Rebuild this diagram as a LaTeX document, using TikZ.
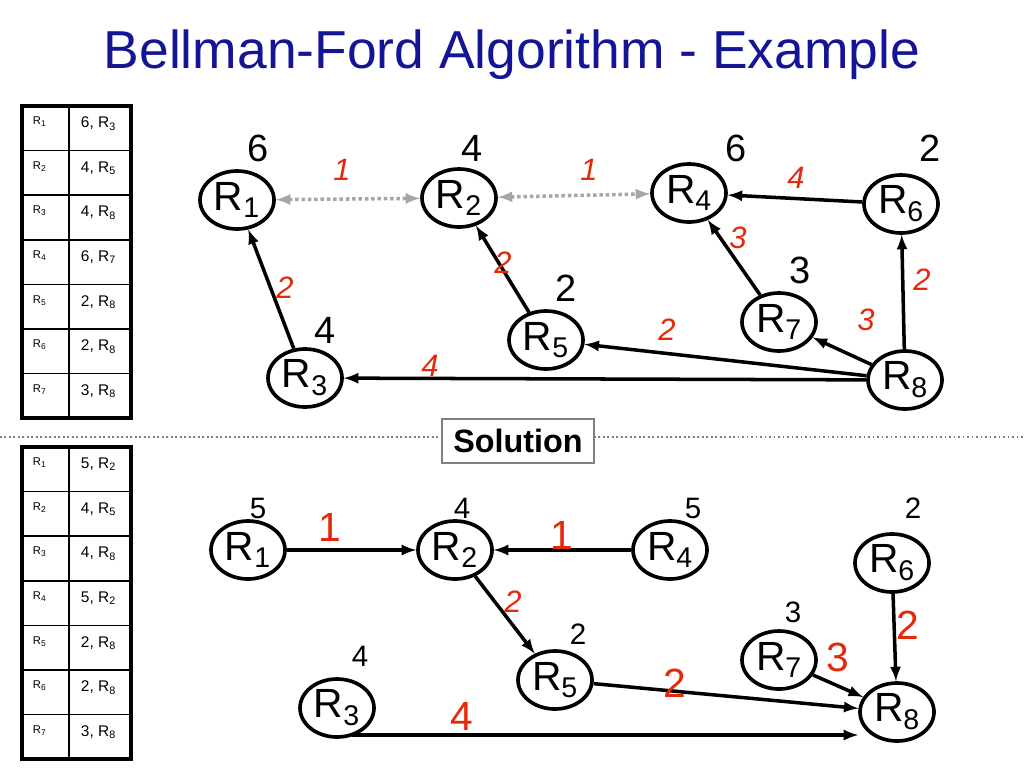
\documentclass[tikz,border=0pt]{standalone}
\usepackage{fontspec}
\setmainfont{Liberation Sans}
\usetikzlibrary{shapes.geometric}
\definecolor{titleblue}{RGB}{20,20,150}
\definecolor{wred}{RGB}{230,40,10}
\begin{document}
\begin{tikzpicture}[x=0.25mm,y=-0.25mm,>=latex]
\tikzset{router/.style={draw,line width=2.6pt,ellipse,inner sep=0pt,minimum width=18.5mm,minimum height=14.5mm,font=\fontsize{29}{31}\selectfont},
dist/.style={font=\fontsize{27}{29}\selectfont},
sdist/.style={font=\fontsize{21}{23}\selectfont},
wt/.style={text=wred,font=\itshape\fontsize{22}{24}\selectfont},
bigwt/.style={text=wred,font=\fontsize{29}{31}\selectfont},
link/.style={->,line width=2.5pt},
peer/.style={<->,gray!70,line width=2.5pt,dotted}}
\useasboundingbox (0,0) rectangle (1024,768);
\node[text=titleblue,font=\fontsize{38}{42}\selectfont] (title) at (512,55) {Bellman-Ford Algorithm - Example};
% tables
\foreach \yo in {106,447}{
  \draw[line width=3pt] (22,\yo) rectangle (131,\yo+312);
  \draw[line width=1.2pt] (69,\yo) -- (69,\yo+312);
  \foreach \i in {1,...,6} \draw[line width=1.2pt] (22,\yo+\i*44.6) -- (131,\yo+\i*44.6);
  \foreach \i in {1,...,7}
    \node[font=\fontsize{8}{9}\selectfont,anchor=north west] at (28,\yo+\i*44.6-44.6+6) {R\textsubscript{\i}};
}
\foreach \i/\e in {1/{6, R\textsubscript{3}},2/{4, R\textsubscript{5}},3/{4, R\textsubscript{8}},4/{6, R\textsubscript{7}},5/{2, R\textsubscript{8}},6/{2, R\textsubscript{8}},7/{3, R\textsubscript{8}}}
  \node[font=\fontsize{11}{12}\selectfont,anchor=north west] at (76,106+\i*44.6-44.6+6) {\e};
\foreach \i/\e in {1/{5, R\textsubscript{2}},2/{4, R\textsubscript{5}},3/{4, R\textsubscript{8}},4/{5, R\textsubscript{2}},5/{2, R\textsubscript{8}},6/{2, R\textsubscript{8}},7/{3, R\textsubscript{8}}}
  \node[font=\fontsize{11}{12}\selectfont,anchor=north west] at (76,447+\i*44.6-44.6+6) {\e};
\draw[gray,dotted,line width=1.2pt] (0,437) -- (1024,437);
\node[draw,gray,line width=1.2pt,fill=white,text=black,font=\bfseries\fontsize{23}{25}\selectfont,minimum width=38mm,minimum height=11mm] (sol) at (518,441) {Solution};
% top graph
\node[router] (a1) at (237,200) {R\textsubscript{1}};
\node[router] (a2) at (459,198) {R\textsubscript{2}};
\node[router] (a4) at (689,193) {R\textsubscript{4}};
\node[router] (a6) at (901,204) {R\textsubscript{6}};
\node[router] (a7) at (779,322) {R\textsubscript{7}};
\node[router] (a5) at (546,340) {R\textsubscript{5}};
\node[router] (a3) at (305,378) {R\textsubscript{3}};
\node[router] (a8) at (905,380) {R\textsubscript{8}};
\node[dist] at (258,148) {6};
\node[dist] at (472,148) {4};
\node[dist] at (736,148) {6};
\node[dist] at (930,148) {2};
\node[dist] at (800,270) {3};
\node[dist] at (566,288) {2};
\node[dist] at (325,330) {4};
\draw[peer] (a1) -- (a2);
\draw[peer] (a2) -- (a4);
\draw[link] (a3) -- (a1);
\draw[link] (a5) -- (a2);
\draw[link] (a7) -- (a4);
\draw[link] (a6) -- (a4);
\draw[link] (a8) -- (a6);
\draw[link] (a8) -- (a7);
\draw[link] (a8) -- (a5);
\draw[link] (a8) -- (a3);
\node[wt] at (342,170) {1};
\node[wt] at (589,170) {1};
\node[wt] at (796,178) {4};
\node[wt] at (738,238) {3};
\node[wt] at (503,263) {2};
\node[wt] at (285,288) {2};
\node[wt] at (922,280) {2};
\node[wt] at (866,320) {3};
\node[wt] at (667,330) {2};
\node[wt] at (430,366) {4};
% bottom graph
\node[router] (b1) at (248,550) {R\textsubscript{1}};
\node[router] (b2) at (455,550) {R\textsubscript{2}};
\node[router] (b4) at (670,550) {R\textsubscript{4}};
\node[router] (b6) at (892,563) {R\textsubscript{6}};
\node[router] (b7) at (779,660) {R\textsubscript{7}};
\node[router] (b5) at (555,680) {R\textsubscript{5}};
\node[router] (b3) at (337,708) {R\textsubscript{3}};
\node[router] (b8) at (897,712) {R\textsubscript{8}};
\node[sdist] at (258,508) {5};
\node[sdist] at (462,508) {4};
\node[sdist] at (693,508) {5};
\node[sdist] at (913,508) {2};
\node[sdist] at (793,612) {3};
\node[sdist] at (578,634) {2};
\node[sdist] at (360,656) {4};
\draw[link] (b1) -- (b2);
\draw[link] (b4) -- (b2);
\draw[link] (b2) -- (b5);
\draw[link] (b6) -- (b8);
\draw[link] (b7) -- (b8);
\draw[link] (b5) -- (b8);
\coordinate (b3out) at (352,735);
\draw[link] (b3out) -- (b3out -| b8.west);
\node[bigwt] at (330,527) {1};
\node[bigwt] at (562,535) {1};
\node[wt] at (513,602) {2};
\node[bigwt] at (908,625) {2};
\node[bigwt] at (838,657) {3};
\node[bigwt] at (675,683) {2};
\node[bigwt] at (462,716) {4};
\end{tikzpicture}
\end{document}
